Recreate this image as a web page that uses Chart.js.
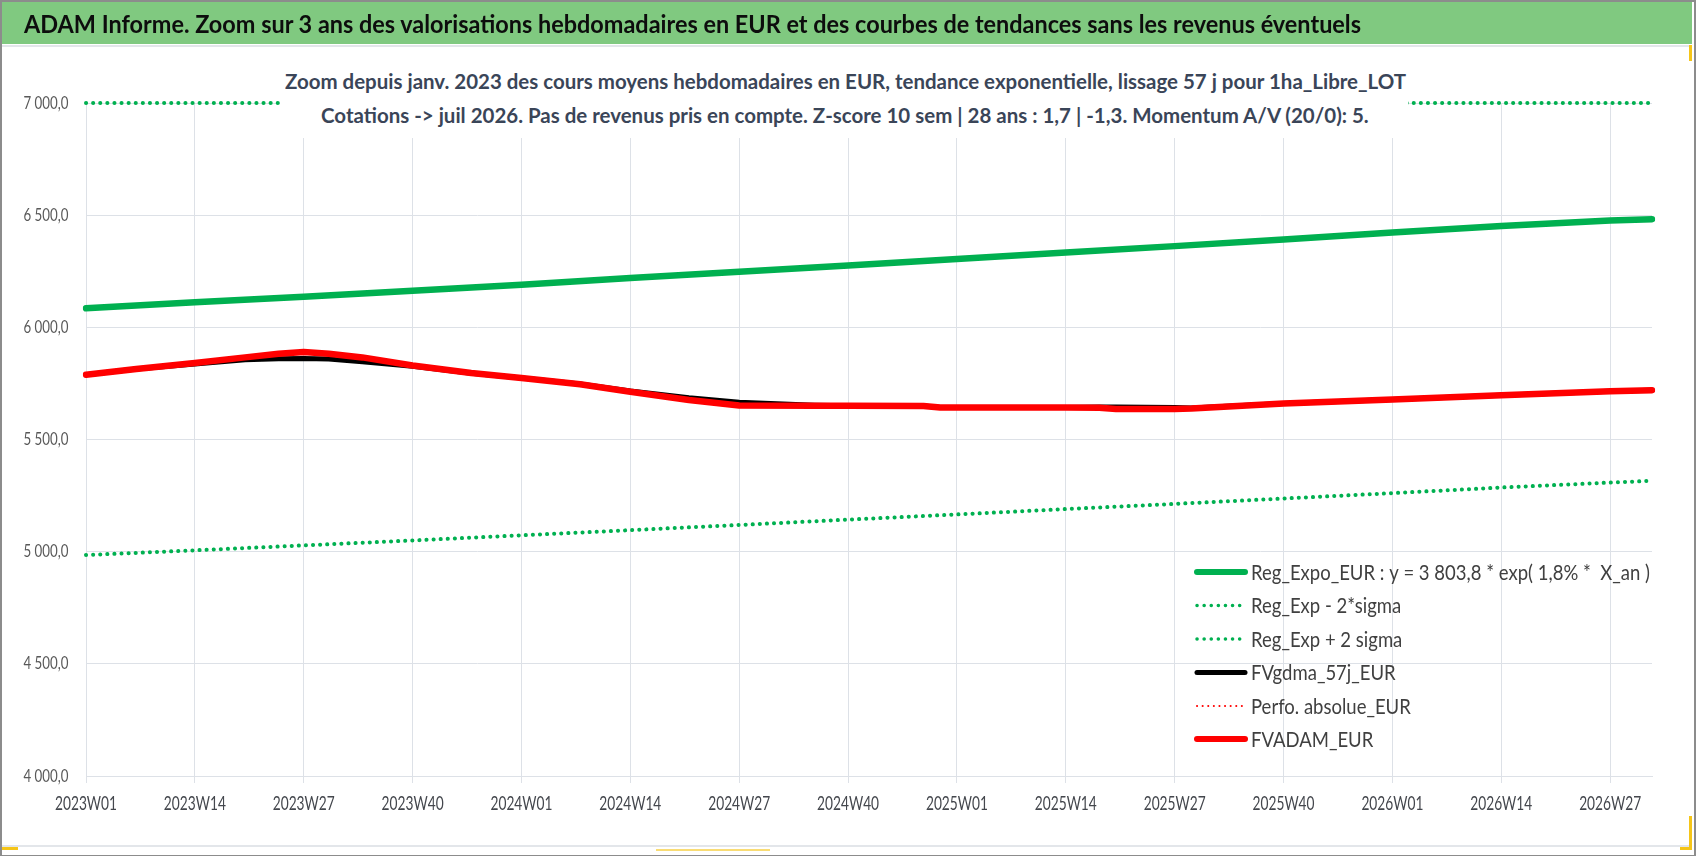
<!DOCTYPE html>
<html lang="fr">
<head>
<meta charset="utf-8">
<title>ADAM Informe</title>
<script src="https://cdn.jsdelivr.net/npm/chart.js@4.4.1/dist/chart.umd.min.js"></script>
<style>
  html, body { margin: 0; padding: 0; background: #fff; }
  body { width: 1698px; height: 856px; position: relative; overflow: hidden; font-family: Lato, 'Open Sans', sans-serif; }
  #frame { position: absolute; left: 0; top: 0; width: 1692px; height: 853px;
           border-left: 2px solid #8c8c8c; border-top: 2px solid #8c8c8c;
           border-right: 2px solid #8c8c8c; border-bottom: 1px solid #8c8c8c; }
  #chart { position: absolute; left: 0; top: 0; }
  #titre { position: absolute; left: 2px; top: 2px; width: 1690px; height: 42px; background: #80c980; }
  #titre span { position: absolute; left: 22px; top: 0; line-height: 44px; color: #0d0d0d;
                font-weight: bold; font-size: 24px; white-space: nowrap; transform-origin: 0 50%; }
  #sepHaut { position: absolute; left: 2px; top: 45px; width: 1690px; height: 2px; background: #e3e6ea; }
  #sepBas { position: absolute; left: 2px; top: 845px; width: 1690px; height: 2px; background: #e3e6ea; }
  #sousTitre { position: absolute; left: 280px; top: 64px; width: 1128px; height: 74px; background: #fff; }
  #sousTitre span { position: absolute; top: 0; line-height: 28px; color: #3a4558; font-weight: bold;
                    font-size: 20px; white-space: nowrap; transform-origin: 0 50%; }
  .jaune { position: absolute; background: #f5c518; }
</style>
</head>
<body>
<div id="frame"></div>
<canvas id="chart" width="1698" height="856"></canvas>
<div id="titre"><span>ADAM Informe. Zoom sur 3 ans des valorisations hebdomadaires en EUR et des courbes de tendances sans les revenus éventuels</span></div>
<div id="sepHaut"></div>
<div id="sepBas"></div>
<div id="sousTitre">
  <span id="st1">Zoom depuis janv. 2023 des cours moyens hebdomadaires en EUR, tendance exponentielle, lissage 57 j pour 1ha_Libre_LOT</span>
  <span id="st2">Cotations -&gt; juil 2026. Pas de revenus pris en compte. Z-score 10 sem | 28 ans : 1,7 | -1,3. Momentum A/V (20/0): 5.</span>
</div>
<div class="jaune" style="left:2px;top:847px;width:16px;height:3px;"></div>
<div class="jaune" style="left:656px;top:849px;width:114px;height:2px;opacity:0.6;"></div>
<div class="jaune" style="left:1689px;top:45px;width:3px;height:16px;"></div>
<div class="jaune" style="left:1689px;top:816px;width:3px;height:34px;"></div>
<div class="jaune" style="left:1680px;top:847px;width:12px;height:3px;"></div>

<script>
// ==================== DONNEES ====================

// Semaines ISO de l'axe : 2023W01 -> 2026W32
const years = [2023, 2024, 2025, 2026];
const lastWeekOfYear = [52, 52, 52, 32];

// Courbes de tendance (lues toutes les 13 semaines)
const trendWeeks = ['2023W01', '2023W14', '2023W27', '2023W40', '2024W01', '2024W14', '2024W27', '2024W40',
  '2025W01', '2025W14', '2025W27', '2025W40', '2026W01', '2026W14', '2026W27', '2026W32'];
const regExpoValues = [6085, 6112, 6136, 6163, 6190, 6220, 6248, 6276, 6305, 6334, 6362, 6392, 6423, 6452, 6476, 6482];
const regMinus2SigmaValues = [4985, 5006, 5028, 5050, 5073, 5096, 5119, 5143, 5166, 5190, 5213, 5237, 5261, 5286, 5308, 5316];
// +2 sigma : hors échelle, la courbe reste collée au haut de l'axe (7 000)
const regPlus2SigmaValues = [7000, 7000, 7000, 7000, 7000, 7000, 7000, 7000, 7000, 7000, 7000, 7000, 7000, 7000, 7000, 7000];

// Cours lissés
const sampleWeeks = ['2023W01', '2023W07', '2023W14', '2023W20', '2023W24', '2023W27', '2023W30', '2023W34', '2023W40', '2023W47',
  '2024W01', '2024W08', '2024W14', '2024W21', '2024W27', '2024W36', '2024W40', '2024W49', '2024W51',
  '2025W01', '2025W14', '2025W18', '2025W20', '2025W27', '2025W29', '2025W40',
  '2026W01', '2026W14', '2026W27', '2026W32'];
const fvadamValues = [5789, 5814, 5841, 5866, 5882, 5890, 5882, 5866, 5830, 5796,
  5774, 5746, 5713, 5676, 5652, 5651, 5650, 5649, 5643,
  5643, 5643, 5642, 5636, 5636, 5638, 5660,
  5678, 5697, 5715, 5720];
const fvgdmaValues = [5789, 5814, 5836, 5855, 5860, 5861, 5859, 5846, 5826, 5795,
  5774, 5748, 5716, 5686, 5666, 5653, 5650, 5649, 5643,
  5643, 5643, 5645, 5645, 5643, 5640, 5660,
  5678, 5697, 5715, 5720];
const perfoAbsolueValues = []; // non visible sur la période

const yTicks = [4000, 4500, 5000, 5500, 6000, 6500, 7000];

// ==================== CONSTRUCTION ====================

const weekLabels = [];
years.forEach((y, k) => {
  for (let w = 1; w <= lastWeekOfYear[k]; w++) {
    weekLabels.push(y + 'W' + String(w).padStart(2, '0'));
  }
});

const toPoints = (weeks, values) => values.map((v, i) => ({ x: weeks[i], y: v }));

const FONT = "Lato, 'Open Sans', sans-serif";
const GRID = '#dde1e7';
const VERT = '#00b050';

// Format "7 000,0"
function formatEur(v) {
  const parts = v.toFixed(1).split('.');
  return parts[0].replace(/\B(?=(\d{3})+(?!\d))/g, ' ') + ',' + parts[1];
}

// Texte resserré horizontalement (police étroite façon Calibri)
function drawNarrow(ctx, text, x, y, align, sx) {
  ctx.save();
  ctx.translate(x, y);
  ctx.scale(sx, 1);
  ctx.textAlign = align;
  ctx.fillText(text, 0, 0);
  ctx.restore();
}

// Etiquettes des axes
const axisLabels = {
  id: 'axisLabels',
  afterDraw(chart) {
    const ctx = chart.ctx;
    const xs = chart.scales.x, ys = chart.scales.y;
    ctx.save();
    ctx.textBaseline = 'middle';

    ctx.font = '19px ' + FONT;
    ctx.fillStyle = '#44474d';
    const sxX = 62 / ctx.measureText('2023W01').width;
    weekLabels.forEach((lab, i) => {
      if (i % 13 === 0) drawNarrow(ctx, lab, xs.getPixelForValue(i), chart.chartArea.bottom + 28, 'center', sxX);
    });

    ctx.font = '17.5px ' + FONT;
    ctx.fillStyle = '#595959';
    const sxY = 45 / ctx.measureText('6 500,0').width;
    yTicks.forEach(v => {
      drawNarrow(ctx, formatEur(v), chart.chartArea.left - 17.5, ys.getPixelForValue(v), 'right', sxY);
    });
    ctx.restore();
  }
};

// Légende dessinée dans la zone du graphique (fond transparent)
const legendInside = {
  id: 'legendInside',
  afterDatasetsDraw(chart) {
    const ctx = chart.ctx;
    const x1 = 1197, x2 = 1245, xt = 1251;
    const rows = [572, 605.5, 639, 672.5, 706, 739];
    ctx.save();
    ctx.font = '21px ' + FONT;
    ctx.textBaseline = 'middle';
    ctx.fillStyle = '#404040';
    const sx = 399 / ctx.measureText(chart.data.datasets[0].label).width;
    chart.data.datasets.forEach((ds, i) => {
      const y = rows[i];
      ctx.beginPath();
      ctx.strokeStyle = ds.borderColor;
      ctx.lineWidth = ds.legendWidth || ds.borderWidth;
      ctx.lineCap = 'round';
      ctx.setLineDash(ds.legendDash || []);
      ctx.moveTo(x1, y);
      ctx.lineTo(x2, y);
      ctx.stroke();
      ctx.setLineDash([]);
      drawNarrow(ctx, ds.label, xt, y + 1, 'left', sx);
    });
    ctx.restore();
  }
};

const datasets = [
  {
    label: 'Reg_Expo_EUR : y = 3 803,8 * exp( 1,8% *  X_an )',
    data: toPoints(trendWeeks, regExpoValues),
    borderColor: VERT, borderWidth: 6.5, order: 3, legendWidth: 6
  },
  {
    label: 'Reg_Exp - 2*sigma',
    data: toPoints(trendWeeks, regMinus2SigmaValues),
    borderColor: VERT, borderWidth: 4, borderDash: [0.1, 7], borderCapStyle: 'round', order: 4,
    legendWidth: 3.5, legendDash: [0.1, 7]
  },
  {
    label: 'Reg_Exp + 2 sigma',
    data: toPoints(trendWeeks, regPlus2SigmaValues),
    borderColor: VERT, borderWidth: 4, borderDash: [0.1, 7], borderCapStyle: 'round', order: 5, clip: false,
    legendWidth: 3.5, legendDash: [0.1, 7]
  },
  {
    label: 'FVgdma_57j_EUR',
    data: toPoints(sampleWeeks, fvgdmaValues),
    borderColor: '#000000', borderWidth: 5, order: 2, legendWidth: 5
  },
  {
    label: 'Perfo. absolue_EUR',
    data: toPoints(sampleWeeks, perfoAbsolueValues),
    borderColor: '#ff0000', borderWidth: 2, borderDash: [0.1, 5.5], borderCapStyle: 'round', order: 1,
    legendWidth: 2, legendDash: [0.1, 5.5]
  },
  {
    label: 'FVADAM_EUR',
    data: toPoints(sampleWeeks, fvadamValues),
    borderColor: '#ff0000', borderWidth: 6.5, order: 0, legendWidth: 6
  }
];

new Chart(document.getElementById('chart'), {
  type: 'line',
  data: { labels: weekLabels, datasets: datasets },
  options: {
    responsive: false,
    animation: false,
    events: [],
    layout: { padding: { left: 0, right: 46, top: 103, bottom: 40 } },
    elements: {
      point: { radius: 0 },
      line: { tension: 0, borderJoinStyle: 'round', borderCapStyle: 'round', fill: false }
    },
    plugins: { legend: { display: false }, tooltip: { enabled: false }, title: { display: false } },
    scales: {
      x: {
        type: 'category',
        offset: false,
        grid: {
          color: (c) => (c.index % 13 === 0 ? GRID : 'rgba(0,0,0,0)'),
          lineWidth: 1,
          drawTicks: true,
          tickLength: 7
        },
        border: { display: true, color: GRID },
        ticks: { display: false, autoSkip: false, maxRotation: 0 },
        afterFit: (scale) => { scale.height = 40; }
      },
      y: {
        min: 4000,
        max: 7000,
        afterBuildTicks: (scale) => { scale.ticks = yTicks.map(v => ({ value: v })); },
        grid: { color: GRID, lineWidth: 1, drawTicks: false },
        border: { display: false },
        ticks: { display: false },
        afterFit: (scale) => { scale.width = 86; }
      }
    }
  },
  plugins: [legendInside, axisLabels]
});

// Titres HTML resserrés à la largeur de l'original
const titre = document.querySelector('#titre span');
titre.style.transform = 'scaleX(' + (1337 / titre.getBoundingClientRect().width) + ')';

const st1 = document.getElementById('st1');
const st2 = document.getElementById('st2');
const k = 1121 / st1.getBoundingClientRect().width;
[st1, st2].forEach(el => {
  const w = el.getBoundingClientRect().width;
  el.style.transform = 'scaleX(' + k + ')';
  el.style.left = (845 - 280 - w * k / 2) + 'px';
});
st1.style.top = '3px';
st2.style.top = '37px';
</script>
</body>
</html>
